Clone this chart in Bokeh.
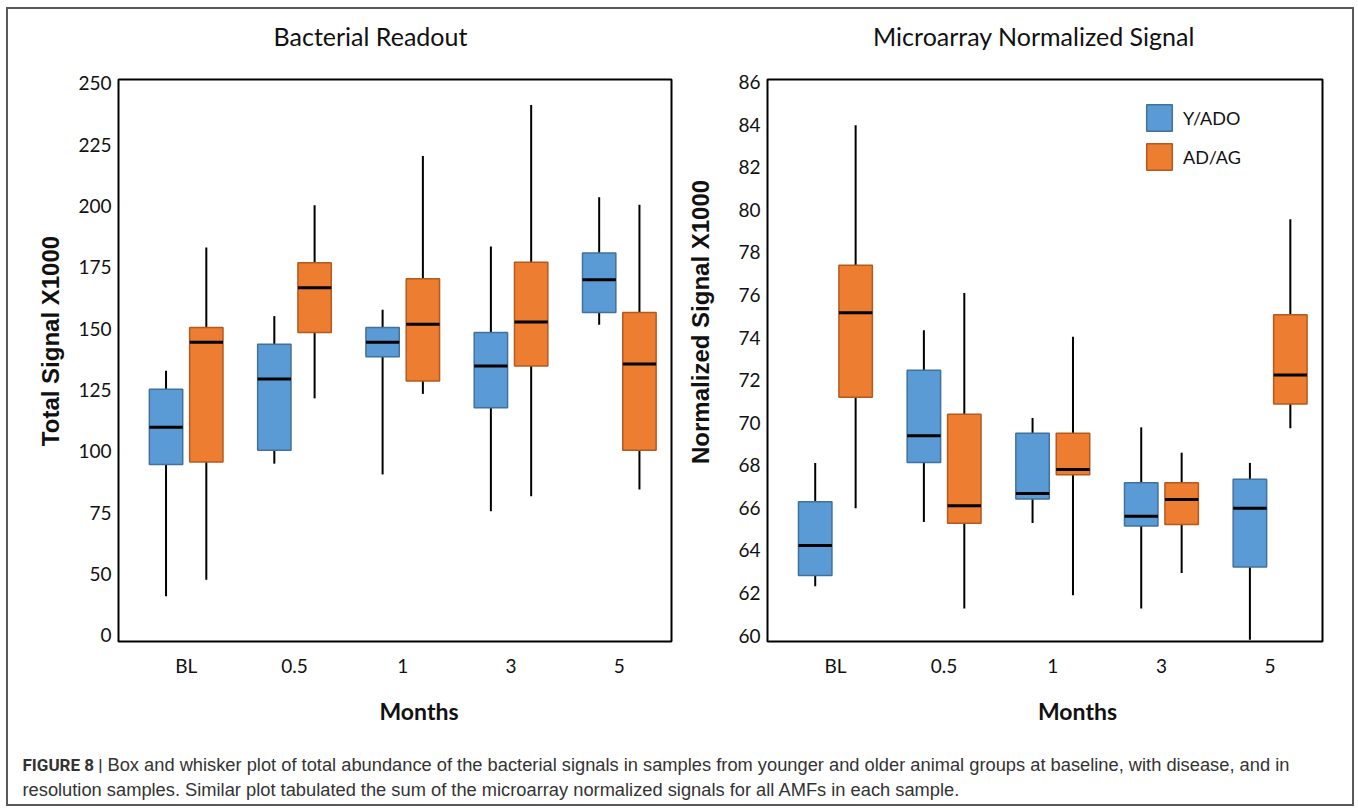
import math
from bokeh.plotting import figure
from bokeh.models import Range1d, FixedTicker, Legend, LegendItem, ColumnDataSource
from bokeh.layouts import column, row
from bokeh.embed import file_html
from bokeh.resources import INLINE
from bokeh.core.properties import value

months = ["BL", "0.5", "1", "3", "5"]
group_names = ["Y/ADO", "AD/AG"]
panel_titles = ["Bacterial Readout", "Microarray Normalized Signal"]
y_titles = ["Total Signal X1000", "Normalized Signal X1000"]
x_title = "Months"

# Bacterial Readout (Total Signal X1000)
bact_yado_low = [41.0, 95.0, 90.6, 75.6, 151.6]
bact_yado_q1 = [94.7, 100.5, 138.6, 117.8, 156.6]
bact_yado_med = [109.8, 129.5, 144.5, 134.8, 169.9]
bact_yado_q3 = [125.3, 143.6, 150.5, 148.4, 180.8]
bact_yado_high = [132.9, 155.1, 157.7, 183.5, 203.5]
bact_adag_low = [47.7, 121.6, 123.4, 81.7, 84.5]
bact_adag_q1 = [95.7, 148.4, 128.7, 134.8, 100.5]
bact_adag_med = [144.5, 166.7, 151.8, 152.7, 135.6]
bact_adag_q3 = [150.5, 176.8, 170.3, 177.0, 156.6]
bact_adag_high = [183.1, 200.3, 220.3, 241.1, 200.5]
# the original axis prints "0" where 25 would be
bact_tick_values = [25, 50, 75, 100, 125, 150, 175, 200, 225, 250]
bact_tick_labels = ["0", "50", "75", "100", "125", "150", "175", "200", "225", "250"]

# Microarray Normalized Signal (Normalized Signal X1000)
micro_yado_low = [62.31, 65.33, 65.29, 61.27, 59.8]
micro_yado_q1 = [62.82, 68.13, 66.41, 65.14, 63.22]
micro_yado_med = [64.23, 69.38, 66.67, 65.6, 65.98]
micro_yado_q3 = [66.28, 72.46, 69.5, 67.18, 67.34]
micro_yado_high = [68.11, 74.34, 70.22, 69.78, 68.11]
micro_adag_low = [65.98, 61.27, 61.89, 62.94, 69.74]
micro_adag_q1 = [71.19, 65.28, 67.55, 65.22, 70.88]
micro_adag_med = [75.16, 66.1, 67.8, 66.39, 72.24]
micro_adag_q3 = [77.39, 70.39, 69.5, 67.18, 75.07]
micro_adag_high = [83.97, 76.09, 74.04, 68.59, 79.56]
micro_tick_values = [60, 62, 64, 66, 68, 70, 72, 74, 76, 78, 80, 82, 84, 86]
micro_tick_labels = [str(v) for v in micro_tick_values]

cap_bold = ["FIGURE 8 |"]
cap_line1 = ["Box and whisker plot of total abundance of the bacterial signals in samples from younger and older animal groups at baseline, with disease, and in"]
cap_line2 = ["resolution samples. Similar plot tabulated the sum of the microarray normalized signals for all AMFs in each sample."]

BLUE_FILL, BLUE_LINE = "#5b9bd5", "#41719c"
ORANGE_FILL, ORANGE_LINE = "#ed7d31", "#b35a1f"
FONT = "Lato"
TXT = "#111111"

OFFSET = 0.186
HALF_W = 0.154
XR = (-0.625, 4.482)
PLOT_H = 619


def blank(w, h):
    f = figure(width=w, height=h, x_range=Range1d(0, w), y_range=Range1d(0, h),
               output_backend="svg", toolbar_location=None, min_border=0, title_location=None)
    f.axis.visible = False
    f.grid.visible = False
    f.outline_line_color = None
    return f


def make_panel(yrange, ticks, labels, series, w, borders):
    bl, br, bt, bb = borders
    p = figure(width=w, height=PLOT_H, x_range=Range1d(*XR), y_range=Range1d(*yrange),
               output_backend="svg", toolbar_location=None, title_location=None,
               min_border_left=bl, min_border_right=br, min_border_top=bt, min_border_bottom=bb)
    p.outline_line_color = "black"
    p.outline_line_width = 2
    p.xgrid.visible = False
    p.ygrid.visible = False

    renderers = []
    for (low, q1, med, q3, high), off, fill, line in series:
        xs = list(range(len(months)))
        src = ColumnDataSource(dict(
            x=[x + off for x in xs],
            left=[x + off - HALF_W for x in xs],
            right=[x + off + HALF_W for x in xs],
            low=low, q1=q1, med=med, q3=q3, high=high))
        p.segment(x0="x", y0="low", x1="x", y1="high", source=src, line_color="black", line_width=2)
        r = p.quad(left="left", right="right", bottom="q1", top="q3", source=src,
                   fill_color=fill, line_color=line, line_width=1.5)
        p.segment(x0="left", y0="med", x1="right", y1="med", source=src, line_color="black", line_width=3)
        renderers.append(r)

    p.xaxis.ticker = FixedTicker(ticks=list(range(len(months))))
    p.xaxis.major_label_overrides = {i: m for i, m in enumerate(months)}
    p.yaxis.ticker = FixedTicker(ticks=ticks)
    p.yaxis.major_label_overrides = {t: l for t, l in zip(ticks, labels)}
    for ax in (p.xaxis, p.yaxis):
        ax.axis_line_color = None
        ax.major_tick_in = 0
        ax.major_tick_out = 0
        ax.minor_tick_line_color = None
        ax.major_label_text_font = FONT
        ax.major_label_text_font_size = "19px"
        ax.major_label_text_color = TXT
    p.xaxis.major_label_standoff = 12
    p.yaxis.major_label_standoff = 7
    return p, renderers


p1, _ = make_panel((22.55, 251.5), bact_tick_values, bact_tick_labels,
                   [((bact_yado_low, bact_yado_q1, bact_yado_med, bact_yado_q3, bact_yado_high), -OFFSET, BLUE_FILL, BLUE_LINE),
                    ((bact_adag_low, bact_adag_q1, bact_adag_med, bact_adag_q3, bact_adag_high), OFFSET, ORANGE_FILL, ORANGE_LINE)],
                   610, (52, 5, 8, 49))

p2, rends = make_panel((59.72, 86.12), micro_tick_values, micro_tick_labels,
                       [((micro_yado_low, micro_yado_q1, micro_yado_med, micro_yado_q3, micro_yado_high), -OFFSET, BLUE_FILL, BLUE_LINE),
                        ((micro_adag_low, micro_adag_q1, micro_adag_med, micro_adag_q3, micro_adag_high), OFFSET, ORANGE_FILL, ORANGE_LINE)],
                       632, (47, 30, 4, 46))

legend = Legend(items=[LegendItem(label=group_names[0], renderers=[rends[0]]),
                       LegendItem(label=group_names[1], renderers=[rends[1]])],
                location=(376, 468), glyph_width=32, glyph_height=33, spacing=6,
                padding=0, margin=0, label_standoff=8,
                border_line_alpha=0, background_fill_alpha=0,
                label_text_font=FONT, label_text_font_size="18px", label_text_color=TXT)
p2.add_layout(legend)

# header with the two panel titles
header = blank(1344, 62)
header.text(x=[362, 1025.5], y=[36, 36], text=panel_titles, text_font=value(FONT),
            text_font_size="25px", text_color=TXT, text_align="center", text_baseline="alphabetic")

# y-axis titles
yl1 = blank(58, PLOT_H)
yl1.text(x=[42], y=[331], text=[y_titles[0]], angle=math.pi / 2, text_font=value("Liberation Sans"),
         text_font_style="bold", text_font_size="24px", text_color=TXT,
         text_align="center", text_baseline="middle")
yl2 = blank(44, PLOT_H)
yl2.text(x=[24], y=[352], text=[y_titles[1]], angle=math.pi / 2, text_font=value("Liberation Sans"),
         text_font_style="bold", text_font_size="24px", text_color=TXT,
         text_align="center", text_baseline="middle")

# x-axis titles
footer = blank(1344, 40)
footer.text(x=[410.5, 1069], y=[20, 20], text=[x_title, x_title], text_font=value(FONT),
            text_font_style="bold", text_font_size="23px", text_color=TXT,
            text_align="center", text_baseline="middle")

# caption
cap = blank(1344, 74)
cap.text(x=[14], y=[40], text=cap_bold, text_font=value("Roboto"), text_font_style="bold",
         text_font_size="17px", text_color="#333333", text_baseline="middle")
cap.text(x=[99], y=[40], text=cap_line1, text_font=value("Liberation Sans"),
         text_font_size="18.3px", text_color="#333333", text_baseline="middle")
cap.text(x=[14], y=[15], text=cap_line2, text_font=value("Liberation Sans"),
         text_font_size="18.3px", text_color="#333333", text_baseline="middle")

layout = column(header, row(yl1, p1, yl2, p2), footer, cap,
                styles={"border": "2px solid #5a5a5a", "margin": "7px 0px 0px 6px"})

open("out.html", "w").write(file_html(layout, INLINE))
